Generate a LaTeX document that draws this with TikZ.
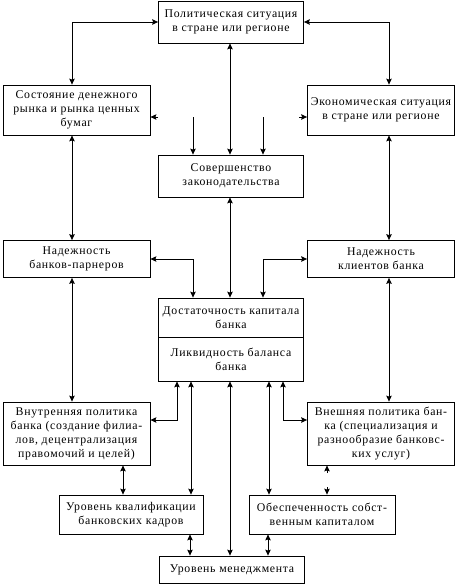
\documentclass[tikz,border=0pt]{standalone}
\usepackage{fontspec}
\setmainfont[LetterSpace=6]{Liberation Serif}
\usepackage{tikz}
\usetikzlibrary{arrows.meta,positioning}
\tikzset{
    % Base box style
    basebox/.style={
        draw=black,
        fill=white,
        line width=0.8pt,
        inner sep=1pt,
        align=center,
        font=\fontsize{11.8}{14}\selectfont
    },
    % Side boxes
    sidebox/.style={
        basebox,
        minimum width=147pt
    },
    % Central boxes
    midbox/.style={
        basebox,
        minimum width=145pt
    },
    % One-way arrow
    myarrow/.style={
        -{Stealth[length=6pt,width=5.5pt,inset=1pt]},
        line width=0.8pt
    },
    % Two-way arrow
    biarrow/.style={
        {Stealth[length=6pt,width=5.5pt,inset=1pt]}-{Stealth[length=6pt,width=5.5pt,inset=1pt]},
        line width=0.8pt
    }
}
\begin{document}
\begin{tikzpicture}[x=1pt,y=-1pt]
        \useasboundingbox (0,0) rectangle (457,587);

        % Boxes
        \node[midbox, minimum height=42pt] (polit) at (231,22) {Политическая ситуация\\в стране или регионе};
        \node[sidebox, minimum height=50pt] (rynok) at (76.5,110) {Состояние денежного\\рынка и рынка ценных\\бумаг};
        \node[sidebox, minimum height=50pt] (econ) at (381,110) {Экономическая ситуация\\в стране или регионе};
        \node[midbox, minimum height=42pt] (zakon) at (231,176) {Совершенство\\законодательства};
        \node[sidebox, minimum height=37pt] (nadb) at (76.5,259) {Надежность\\банков-парнеров};
        \node[sidebox, minimum height=37pt] (nadk) at (381,259) {Надежность\\клиентов банка};
        \node[midbox, minimum height=39pt] (dost) at (231,317.5) {Достаточность капитала\\банка};
        \node[midbox, minimum height=44pt] (likv) at (231,359) {Ликвидность баланса\\банка};
        \node[sidebox, minimum height=63pt] (vnut) at (76.5,433.5) {Внутренняя политика\\банка (создание филиа-\\лов, децентрализация\\правомочий и целей)};
        \node[sidebox, minimum height=63pt] (vnesh) at (381,433.5) {Внешняя политика бан-\\ка (специализация и\\разнообразие банковс-\\ких услуг)};
        \node[basebox, minimum width=144pt, minimum height=39pt] (kadr) at (131,514.5) {Уровень квалификации\\банковских кадров};
        \node[basebox, minimum width=146pt, minimum height=39pt] (obesp) at (322,514.5) {Обеспеченность собст-\\венным капиталом};
        \node[midbox, minimum height=27pt] (mened) at (232,569.5) {Уровень менеджмента};

        % Columns and free ends
        \coordinate (xl) at (72,0);
        \coordinate (xr) at (389,0);
        \coordinate (xc) at (230,0);
        \coordinate (xa) at (177,0);
        \coordinate (xb) at (191,0);
        \coordinate (xd) at (269,0);
        \coordinate (xe) at (283,0);
        \coordinate (xf) at (123,0);
        \coordinate (xg) at (190,0);
        \coordinate (xh) at (268,0);
        \coordinate (yv) at (0,420);
        \coordinate (s1) at (193,117);
        \coordinate (s2) at (263,117);
        \coordinate (t1) at (158,117);
        \coordinate (t2) at (299,117);
        \coordinate (u1) at (327,473);
        \coordinate (u2) at (327,487);

        % Upper arrows
        \draw[biarrow] (polit.west) -| (xl |- rynok.north);
        \draw[biarrow] (polit.east) -| (xr |- econ.north);
        \draw[biarrow] (xc |- polit.south) -- (xc |- zakon.north);
        \draw[myarrow] (s1) -- (s1 |- zakon.north);
        \draw[myarrow] (s2) -- (s2 |- zakon.north);
        \draw[myarrow] (t1) -- (t1 -| rynok.east);
        \draw[myarrow] (t2) -- (t2 -| econ.west);
        \draw[biarrow] (xc |- zakon.south) -- (xc |- dost.north);
        \draw[biarrow] (xl |- rynok.south) -- (xl |- nadb.north);
        \draw[biarrow] (xr |- econ.south) -- (xr |- nadk.north);
        \draw[biarrow] (nadb.east) -| (s1 |- dost.north);
        \draw[biarrow] (nadk.west) -| (s2 |- dost.north);
        \draw[biarrow] (xl |- nadb.south) -- (xl |- vnut.north);
        \draw[biarrow] (xr |- nadk.south) -- (xr |- vnesh.north);

        % Lower arrows
        \draw[biarrow] (xa |- likv.south) |- (yv -| vnut.east);
        \draw[biarrow] (xe |- likv.south) |- (yv -| vnesh.west);
        \draw[biarrow] (xb |- likv.south) -- (xb |- kadr.north);
        \draw[biarrow] (xc |- likv.south) -- (xc |- mened.north);
        \draw[biarrow] (xd |- likv.south) -- (xd |- obesp.north);
        \draw[biarrow] (xf |- vnut.south) -- (xf |- kadr.north);
        \draw[myarrow] (u1) -- (u1 |- vnesh.south);
        \draw[myarrow] (u2) -- (u2 |- obesp.north);
        \draw[biarrow] (xg |- kadr.south) -- (xg |- mened.north);
        \draw[biarrow] (xh |- obesp.south) -- (xh |- mened.north);
    \end{tikzpicture}
\end{document}
